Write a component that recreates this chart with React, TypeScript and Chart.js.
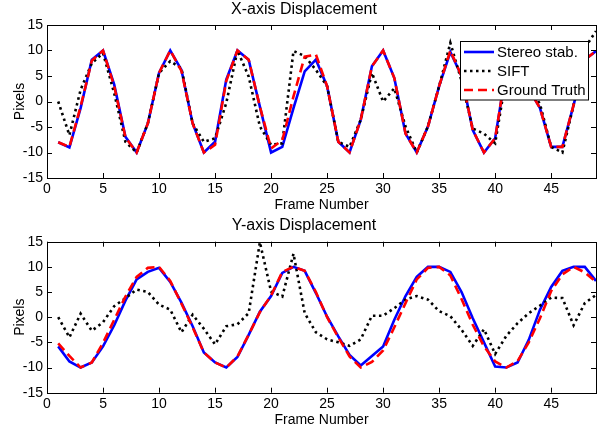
import React, { useEffect, useRef } from 'react';
import { Chart, registerables } from 'chart.js';
Chart.register(...registerables);

const FONT = 'Liberation Sans, Arial, Helvetica, sans-serif';

const frames = [1, 2, 3, 4, 5, 6, 7, 8, 9, 10, 11, 12, 13, 14, 15, 16, 17, 18, 19, 20, 21, 22, 23, 24, 25, 26, 27, 28, 29, 30, 31, 32, 33, 34, 35, 36, 37, 38, 39, 40, 41, 42, 43, 44, 45, 46, 47, 48, 49];
const xTicks = [0, 5, 10, 15, 20, 25, 30, 35, 40, 45];
const yTicks = [-15, -10, -5, 0, 5, 10, 15];
const seriesLabels = ['Stereo stab.', 'SIFT', 'Ground Truth'];

const stereoX = [-8, -9, -1.3, 8.2, 10, 3.3, -6.9, -10, -4.3, 5.6, 10, 6.2, -4.3, -10, -7.9, 4.3, 10, 8.2, -1, -10, -8.9, -1.3, 5.9, 8.2, 3, -7.9, -10, -3.6, 6.9, 10, 4.6, -6.3, -10, -4.9, 3, 9.7, 5, -5.6, -10, -7.2, 6.5, 10, 2.5, -1.3, -8.9, -8.9, -0.7, 8.2, 9.9];
const siftX = [0, -6.6, 2.3, 7.5, 9.5, 1.6, -7.9, -10, -4.3, 5.6, 7.9, 6.5, -4.3, -7.9, -7.2, -0.3, 10, 4.9, -4.9, -8.5, -8.2, 9.9, 8.9, 6.2, 3, -7.9, -8.9, -3.6, 5.6, 0, 2.6, -4.9, -10, -4.9, 3, 11.5, 4, -5.3, -6.3, -8.2, 5, 9, 3, -0.5, -8.9, -10, -0.7, 10.5, 13.8];
const truthX = [-8, -8.9, -1, 8, 10, 3, -7, -10, -4.3, 5.6, 10, 6, -4.3, -10, -8.5, 4, 10, 8.2, -1, -9.2, -7.6, 1, 8.8, 9.2, 3, -7.9, -10, -3.6, 6.9, 10, 4.6, -6.3, -10, -4.9, 3, 10, 5, -5.6, -10, -7.2, 6.5, 10, 2.5, -1.3, -8.9, -8.9, -0.7, 8.2, 9.9];

const stereoY = [-5.8, -8.8, -10, -9, -5.8, -1.6, 3.3, 7.5, 9, 9.8, 7, 2.9, -1.8, -7, -9, -10, -7.9, -3.5, 1.1, 4.2, 8.8, 10, 9.2, 4.8, 0.1, -3.8, -7.5, -9.6, -7.7, -5.8, -0.5, 4.2, 8, 10, 10, 9, 5, -0.2, -5, -9.8, -10, -9, -4.5, 1.5, 6, 9.2, 10, 10, 7.2];
const siftY = [0, -4, 0.7, -2.7, -1, 2.2, 3.8, 5.5, 5, 2.5, 1.5, -3, 0.5, -2.3, -5.4, -1.8, -1.4, 0.8, 14.9, 5.1, 4.1, 12.6, 0.8, -3, -4.4, -5, -5.7, -4.4, 0.3, 0.3, 1.8, 3.5, 4.2, 3.5, 1.2, 0.2, -2.5, -5.7, -2.4, -7.3, -3.7, -1.2, 0.8, 2.3, 3.9, 3.8, -1.6, 2.8, 4.4];
const truthY = [-5.2, -7.7, -10, -9, -5.1, -0.5, 4.1, 8, 9.8, 10, 7.2, 2.7, -2, -7, -9, -10, -7.8, -3.5, 1, 4.3, 9, 10, 9.2, 5, 0, -4, -7.8, -10, -8.9, -6.6, -2, 2.8, 7.5, 9.8, 10, 8.3, 3.6, -1.5, -5.8, -8.8, -10, -8.7, -5, -0.2, 5.2, 8.5, 10, 8.9, 7];

const styles = [
  { color: '#0000ff', dash: [] as number[], width: 2.6, order: 3 },
  { color: '#000000', dash: [2.5, 3.5], width: 2.6, order: 2 },
  { color: '#ff0000', dash: [9, 5], width: 2.6, order: 1 },
];

const pts = (vals: number[]) => frames.map((f, i) => ({ x: f, y: vals[i] }));

const frameTicksPlugin = {
  id: 'frameTicks',
  afterDatasetsDraw(chart: any) {
    const { ctx, chartArea: a, scales } = chart;
    const L = 5;
    ctx.save();
    ctx.strokeStyle = '#000';
    ctx.lineWidth = 1;
    ctx.beginPath();
    for (const v of xTicks) {
      const px = Math.round(scales.x.getPixelForValue(v)) + 0.5;
      ctx.moveTo(px, a.bottom);
      ctx.lineTo(px, a.bottom - L);
      ctx.moveTo(px, a.top);
      ctx.lineTo(px, a.top + L);
    }
    for (const v of yTicks) {
      const py = Math.round(scales.y.getPixelForValue(v)) + 0.5;
      ctx.moveTo(a.left, py);
      ctx.lineTo(a.left + L, py);
      ctx.moveTo(a.right, py);
      ctx.lineTo(a.right - L, py);
    }
    ctx.stroke();
    ctx.strokeRect(Math.round(a.left) + 0.5, Math.round(a.top) + 0.5, Math.round(a.right - a.left), Math.round(a.bottom - a.top));
    ctx.restore();
  },
};

const boxLegendPlugin = {
  id: 'boxLegend',
  afterDraw(chart: any) {
    const { ctx } = chart;
    const bx = 460.5, by = 41.5, bw = 128, bh = 58.5;
    ctx.save();
    ctx.fillStyle = '#fff';
    ctx.fillRect(bx, by, bw, bh);
    ctx.strokeStyle = '#000';
    ctx.lineWidth = 1;
    ctx.strokeRect(bx, by, bw, bh);
    const rows = [52, 71, 90];
    chart.data.datasets.forEach((ds: any, i: number) => {
      const y = rows[i];
      ctx.beginPath();
      ctx.setLineDash(ds.borderDash || []);
      ctx.strokeStyle = ds.borderColor;
      ctx.lineWidth = ds.borderWidth;
      ctx.moveTo(464, y);
      ctx.lineTo(494, y);
      ctx.stroke();
      ctx.setLineDash([]);
      ctx.fillStyle = '#000';
      ctx.font = `15px ${FONT}`;
      ctx.textBaseline = 'middle';
      ctx.textAlign = 'left';
      ctx.fillText(ds.label, 497, y + 0.5);
    });
    ctx.restore();
  },
};

function makeConfig(title: string, a: number[], b: number[], c: number[], titlePad: { top: number; bottom: number }, xAxisH: number, withLegend: boolean): any {
  const tickFont = { family: FONT, size: 14 };
  return {
    type: 'line',
    data: {
      datasets: [a, b, c].map((vals, i) => ({
        label: seriesLabels[i],
        data: pts(vals),
        order: styles[i].order,
        borderColor: styles[i].color,
        backgroundColor: styles[i].color,
        borderDash: styles[i].dash,
        borderWidth: styles[i].width,
        pointRadius: 0,
        tension: 0,
        fill: false,
        borderCapStyle: 'butt',
        borderJoinStyle: 'miter',
      })),
    },
    options: {
      responsive: false,
      animation: false,
      events: [],
      layout: { padding: { left: 12, right: 4, top: 0, bottom: 0 } },
      plugins: {
        legend: { display: false },
        tooltip: { enabled: false },
        title: {
          display: true,
          text: title,
          color: '#000',
          font: { family: FONT, size: 16, weight: 'normal' },
          padding: titlePad,
        },
      },
      scales: {
        x: {
          type: 'linear',
          min: 0,
          max: 49,
          afterBuildTicks: (s: any) => { s.ticks = xTicks.map((v) => ({ value: v })); },
          ticks: { font: tickFont, color: '#000', padding: 3, maxRotation: 0, autoSkip: false, includeBounds: false },
          grid: { display: false, drawTicks: false },
          border: { display: false },
          title: { display: true, text: 'Frame Number', color: '#000', font: tickFont, padding: 0 },
          afterFit: (s: any) => { s.height = xAxisH; },
        },
        y: {
          type: 'linear',
          min: -15,
          max: 15,
          afterBuildTicks: (s: any) => { s.ticks = yTicks.map((v) => ({ value: v })); },
          ticks: { font: tickFont, color: '#000', padding: 4, autoSkip: false },
          grid: { display: false, drawTicks: false },
          border: { display: false },
          title: { display: true, text: 'Pixels', color: '#000', font: tickFont, padding: 0 },
          afterFit: (s: any) => { s.width = 35; },
        },
      },
    },
    plugins: withLegend ? [frameTicksPlugin, boxLegendPlugin] : [frameTicksPlugin],
  };
}

export default function App() {
  const topRef = useRef<HTMLCanvasElement | null>(null);
  const botRef = useRef<HTMLCanvasElement | null>(null);

  useEffect(() => {
    const c1 = new Chart(topRef.current as HTMLCanvasElement, makeConfig('X-axis Displacement', stereoX, siftX, truthX, { top: 0.4, bottom: 5.4 }, 36, true));
    const c2 = new Chart(botRef.current as HTMLCanvasElement, makeConfig('Y-axis Displacement', stereoY, siftY, truthY, { top: 2.4, bottom: 6.1 }, 36.3, false));
    return () => {
      c1.destroy();
      c2.destroy();
    };
  }, []);

  return (
    <div style={{ position: 'fixed', left: 0, top: 0, width: 600, height: 429, background: '#fff' }}>
      <canvas ref={topRef} width={600} height={214} style={{ display: 'block', width: 600, height: 214 }} />
      <canvas ref={botRef} width={600} height={215} style={{ display: 'block', width: 600, height: 215 }} />
    </div>
  );
}
